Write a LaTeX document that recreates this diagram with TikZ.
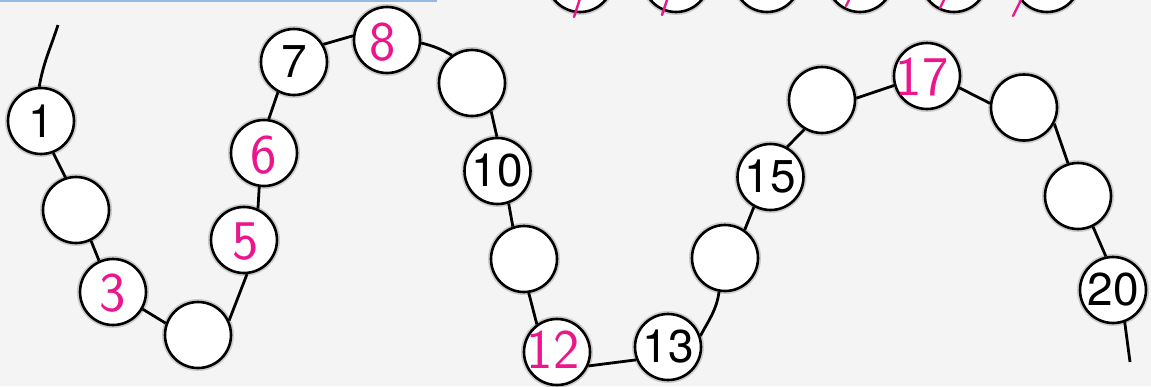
\documentclass[tikz,border=0pt]{standalone}
\usepackage{fontspec}
\setmainfont{TeX Gyre Heros}
\definecolor{pen}{RGB}{236,22,140}
\definecolor{paper}{RGB}{244,244,244}
\definecolor{stripblue}{RGB}{150,185,225}
\begin{document}
\begin{tikzpicture}[x=1pt,y=1pt,
  bead/.style={circle, draw=black, line width=2.6pt, fill=white, minimum size=66pt, inner sep=0pt,
    preaction={draw=black!20, line width=6pt}},
  printed/.style={font=\fontsize{46}{46}\selectfont, text=black, inner sep=0pt},
  hand/.style={font=\sffamily\fontsize{56}{56}\selectfont, text=pen, inner sep=0pt},
  thread/.style={line width=2.8pt, draw=black},
  scrib/.style={draw=pen, line width=2.4pt, line cap=round}
]
\fill[paper] (0,0) rectangle (1151,-386);
\useasboundingbox (0,0) rectangle (1151,-386);
\begin{scope}
\clip (0,0) rectangle (1151,-386);
\fill[stripblue] (0,0) rectangle (437,-1.6);
% partial beads cut by the top edge
\node[bead] (t1) at (580,21) {};
\node[bead] (t2) at (676,21) {};
\node[bead] (t3) at (767,21) {};
\node[bead] (t4) at (860,21) {};
\node[bead] (t5) at (954,21) {};
\node[bead] (t6) at (1047,21) {};
\draw[scrib] (579.5,0) -- (574,-17);
\draw[scrib] (667,0) -- (662,-15);
\draw[scrib] (849,0) -- (846,-6);
\draw[scrib] (944,0) -- (940,-8);
\draw[scrib] (1021,0) -- (1013,-16);
\end{scope}
% beads
\node[bead] (b1) at (41,-121) {};
\node[bead] (b2) at (76,-210) {};
\node[bead] (b3) at (113,-292) {};
\node[bead] (b4) at (198,-335) {};
\node[bead] (b5) at (244,-240) {};
\node[bead] (b6) at (264,-153) {};
\node[bead] (b7) at (294,-62) {};
\node[bead] (b8) at (387,-40) {};
\node[bead] (b9) at (472,-83) {};
\node[bead] (b10) at (497.5,-171) {};
\node[bead] (b11) at (524,-259) {};
\node[bead] (b12) at (557,-352) {};
\node[bead] (b13) at (668,-347) {};
\node[bead] (b14) at (725,-258) {};
\node[bead] (b15) at (770.5,-177) {};
\node[bead] (b16) at (822,-100) {};
\node[bead] (b17) at (927,-76) {};
\node[bead] (b18) at (1024,-107.5) {};
\node[bead] (b19) at (1078,-196) {};
\node[bead] (b20) at (1113,-290) {};
% texts
\node[printed] (l1) at (b1) {1};
\node[printed] (l7) at (b7) {7};
\node[printed] (l10) at (b10) {10};
\node[printed] (l13) at (b13) {13};
\node[printed] (l15) at (b15) {15};
\node[printed] (l20) at (b20) {20};
\node[hand] (l3) at ([shift={(0,-1)}]b3) {3};
\node[hand] (l5) at ([shift={(2,-2)}]b5) {5};
\node[hand] (l6) at ([shift={(0,-2)}]b6) {6};
\node[hand] (l8) at ([shift={(-4,-2)}]b8) {8};
\node[hand] (l12) at ([shift={(-4,2)}]b12) {12};
\node[hand] (l17) at ([shift={(-5,-1)}]b17) {17};
% thread
\coordinate (top) at (58,-25);
\coordinate (bot) at (1130,-362);
\draw[thread] (b1.93) to[out=80,in=-108] (top);
\draw[thread] (b1.-69) -- (b2.108);
\draw[thread] (b2.-64) -- (b3.114);
\draw[thread] (b3.-30) -- (b4.160);
\draw[thread] (b4.25) -- (b5.-85);
\draw[thread] (b5.66) -- (b6.-98);
\draw[thread] (b6.82) -- (b7.-118);
\draw[thread] (b7.31) -- (b8.173);
\draw[thread] (b8.-5) to[bend left=8] (b9.126);
\draw[thread] (b9.-56) -- (b10.91);
\draw[thread] (b10.-71) -- (b11.109);
\draw[thread] (b11.-82) -- (b12.126);
\draw[thread] (b12.-24) -- (b13.-158);
\draw[thread] (b13.19) to[out=62,in=-98] (b14.-100);
\draw[thread] (b14.55) -- (b15.-119);
\draw[thread] (b15.61) -- (b16.-121);
\draw[thread] (b16.3) -- (b17.-164);
\draw[thread] (b17.-20) -- (b18.173);
\draw[thread] (b18.-28) -- (b19.107);
\draw[thread] (b19.-64) -- (b20.102);
\draw[thread] (b20.-70) -- (bot);
\end{tikzpicture}
\end{document}
